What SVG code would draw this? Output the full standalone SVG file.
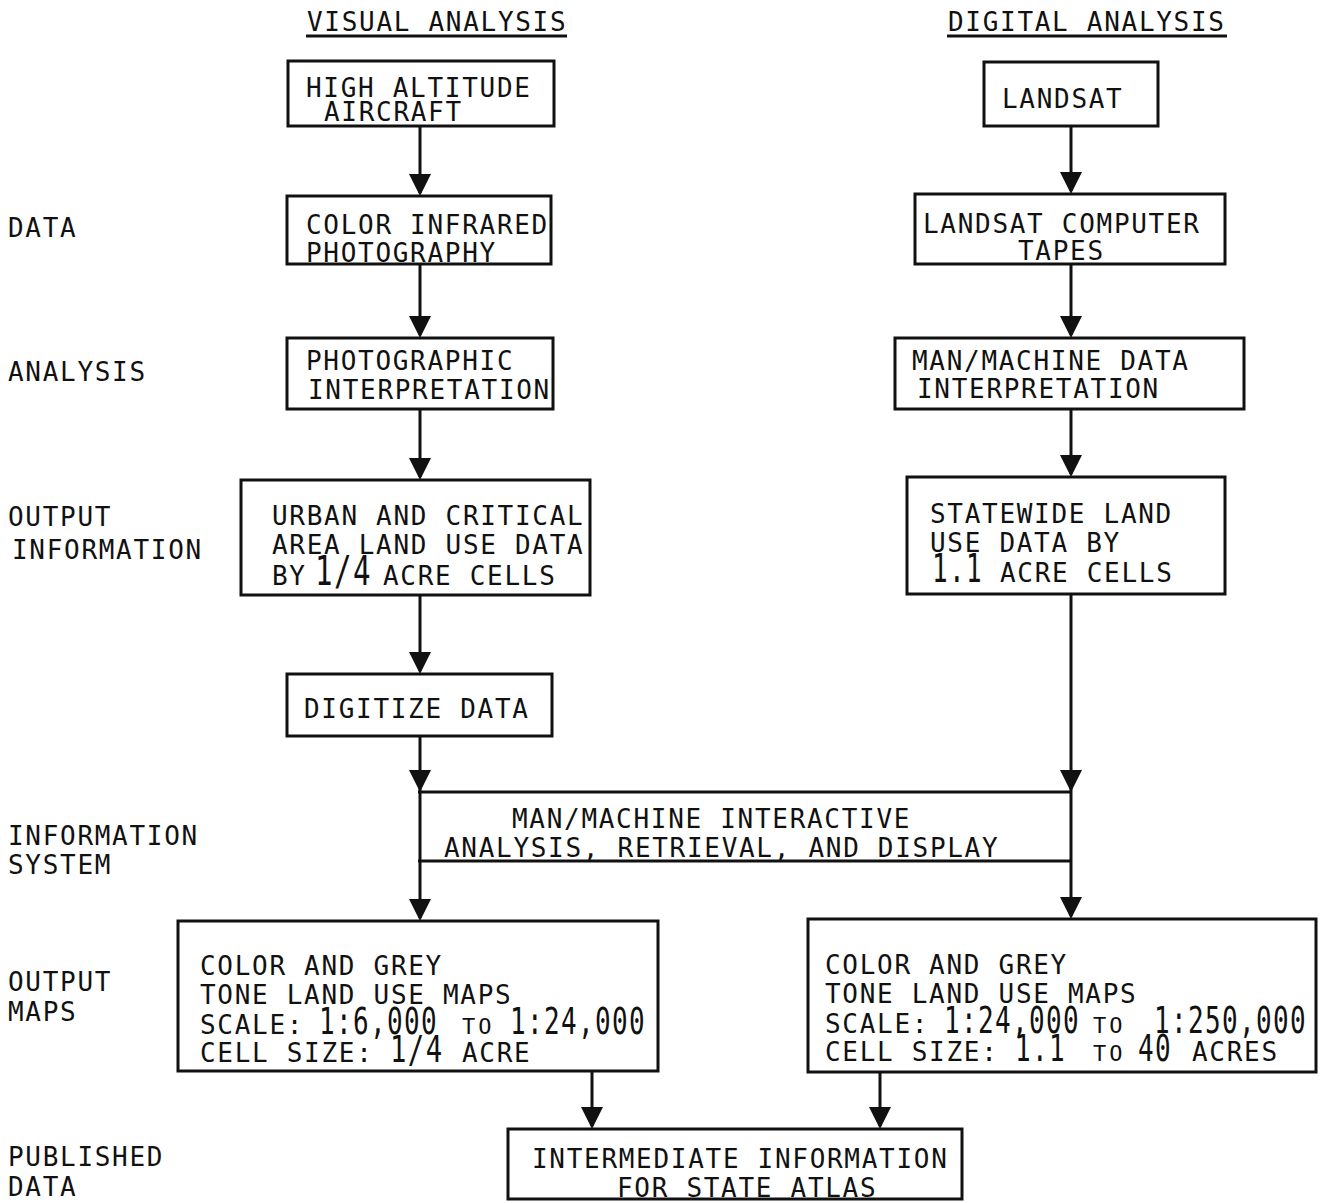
<svg xmlns="http://www.w3.org/2000/svg" width="1335" height="1203" viewBox="0 0 1335 1203">
<style>
text{font-family:"DejaVu Sans Mono","Liberation Mono",monospace;font-size:26px;letter-spacing:1.7px;fill:#111}
.num{letter-spacing:1.35px}
.sm{font-size:22px;letter-spacing:3px}
.box{fill:#fff;stroke:#111;stroke-width:3}
.ln{stroke:#111;stroke-width:3;fill:none}
</style>
<defs>
<marker id="ah" markerUnits="userSpaceOnUse" markerWidth="22" markerHeight="22" viewBox="0 0 22 22" refX="19" refY="11" orient="auto">
<path d="M0,0 L22,11 L0,22 Z" fill="#111"/>
</marker>
</defs>
<g id="row-labels">
<text x="8" y="237">DATA</text>
<text x="8" y="381">ANALYSIS</text>
<text x="8" y="526">OUTPUT</text>
<text x="12" y="559">INFORMATION</text>
<text x="8" y="845">INFORMATION</text>
<text x="8" y="874">SYSTEM</text>
<text x="8" y="991">OUTPUT</text>
<text x="8" y="1021">MAPS</text>
<text x="8" y="1166">PUBLISHED</text>
<text x="8" y="1196">DATA</text>
</g>
<g id="headers">
<text x="307" y="31">VISUAL ANALYSIS</text>
<line class="ln" x1="306" y1="36" x2="567" y2="36" stroke-width="2"/>
<text x="948" y="31">DIGITAL ANALYSIS</text>
<line class="ln" x1="947" y1="36" x2="1227" y2="36" stroke-width="2"/>
</g>
<g id="connectors">
<path class="ln" d="M420,127 V193" marker-end="url(#ah)"/>
<path class="ln" d="M420,264 V335" marker-end="url(#ah)"/>
<path class="ln" d="M420,409 V477" marker-end="url(#ah)"/>
<path class="ln" d="M420,595 V671" marker-end="url(#ah)"/>
<path class="ln" d="M420,736 V789" marker-end="url(#ah)"/>
<path class="ln" d="M420,789 V918" marker-end="url(#ah)"/>
<path class="ln" d="M1071,126 V191" marker-end="url(#ah)"/>
<path class="ln" d="M1071,264 V335" marker-end="url(#ah)"/>
<path class="ln" d="M1071,409 V474" marker-end="url(#ah)"/>
<path class="ln" d="M1071,594 V789" marker-end="url(#ah)"/>
<path class="ln" d="M1071,789 V916" marker-end="url(#ah)"/>
<path class="ln" d="M592,1071 V1126" marker-end="url(#ah)"/>
<path class="ln" d="M880,1072 V1126" marker-end="url(#ah)"/>
</g>
<g id="n-high-altitude">
<rect class="box" x="288" y="61" width="266" height="65"/>
<text x="306" y="97">HIGH ALTITUDE</text>
<text x="324" y="121">AIRCRAFT</text>
</g>
<g id="n-landsat">
<rect class="box" x="984" y="62" width="174" height="64"/>
<text x="1002" y="108">LANDSAT</text>
</g>
<g id="n-cir">
<rect class="box" x="287" y="196" width="264" height="68"/>
<text x="306" y="234">COLOR INFRARED</text>
<text x="306" y="262">PHOTOGRAPHY</text>
</g>
<g id="n-tapes">
<rect class="box" x="915" y="194" width="310" height="70"/>
<text x="923" y="233">LANDSAT COMPUTER</text>
<text x="1018" y="260">TAPES</text>
</g>
<g id="n-photo-interp">
<rect class="box" x="287" y="338" width="266" height="71"/>
<text x="306" y="370">PHOTOGRAPHIC</text>
<text x="308" y="399">INTERPRETATION</text>
</g>
<g id="n-mm-interp">
<rect class="box" x="895" y="338" width="349" height="71"/>
<text x="912" y="370">MAN/MACHINE DATA</text>
<text x="917" y="398">INTERPRETATION</text>
</g>
<g id="n-urban">
<rect class="box" x="241" y="480" width="349" height="115"/>
<text x="272" y="525">URBAN AND CRITICAL</text>
<text x="272" y="554">AREA LAND USE DATA</text>
<text x="272" y="585">BY</text>
<text class="num" transform="translate(315,585) scale(1.12,1.6)">1/4</text>
<text x="383" y="585">ACRE CELLS</text>
</g>
<g id="n-statewide">
<rect class="box" x="907" y="477" width="318" height="117"/>
<text x="930" y="523">STATEWIDE LAND</text>
<text x="930" y="552">USE DATA BY</text>
<text class="num" transform="translate(932,582) scale(1,1.5)">1.1</text>
<text x="1000" y="582">ACRE CELLS</text>
</g>
<g id="n-digitize">
<rect class="box" x="287" y="674" width="265" height="62"/>
<text x="304" y="718">DIGITIZE DATA</text>
</g>
<g id="n-info-system">
<line class="ln" x1="418" y1="792" x2="1072" y2="792"/>
<line class="ln" x1="418" y1="861" x2="1072" y2="861"/>
<text x="512" y="828">MAN/MACHINE INTERACTIVE</text>
<text x="444" y="857">ANALYSIS, RETRIEVAL, AND DISPLAY</text>
</g>
<g id="n-maps-left">
<rect class="box" x="178" y="921" width="480" height="150"/>
<text x="200" y="975">COLOR AND GREY</text>
<text x="200" y="1004">TONE LAND USE MAPS</text>
<text x="200" y="1034">SCALE:</text>
<text class="num" transform="translate(319,1034) scale(1,1.4)">1:6,000</text>
<text class="sm" x="462" y="1034">TO</text>
<text class="num" transform="translate(510,1034) scale(1,1.4)">1:24,000</text>
<text x="200" y="1062">CELL SIZE:</text>
<text class="num" transform="translate(390,1062) scale(1.05,1.45)">1/4</text>
<text x="462" y="1062">ACRE</text>
</g>
<g id="n-maps-right">
<rect class="box" x="808" y="919" width="508" height="153"/>
<text x="825" y="974">COLOR AND GREY</text>
<text x="825" y="1003">TONE LAND USE MAPS</text>
<text x="825" y="1033">SCALE:</text>
<text class="num" transform="translate(944,1033) scale(1,1.4)">1:24,000</text>
<text class="sm" x="1093" y="1033">TO</text>
<text class="num" transform="translate(1154,1033) scale(1,1.4)">1:250,000</text>
<text x="825" y="1061">CELL SIZE:</text>
<text class="num" transform="translate(1015,1061) scale(1,1.4)">1.1</text>
<text class="sm" x="1093" y="1061">TO</text>
<text class="num" transform="translate(1138,1061) scale(1,1.4)">40</text>
<text x="1192" y="1061">ACRES</text>
</g>
<g id="n-atlas">
<rect class="box" x="508" y="1129" width="454" height="70"/>
<text x="532" y="1168">INTERMEDIATE INFORMATION</text>
<text x="617" y="1197">FOR STATE ATLAS</text>
</g>
</svg>
